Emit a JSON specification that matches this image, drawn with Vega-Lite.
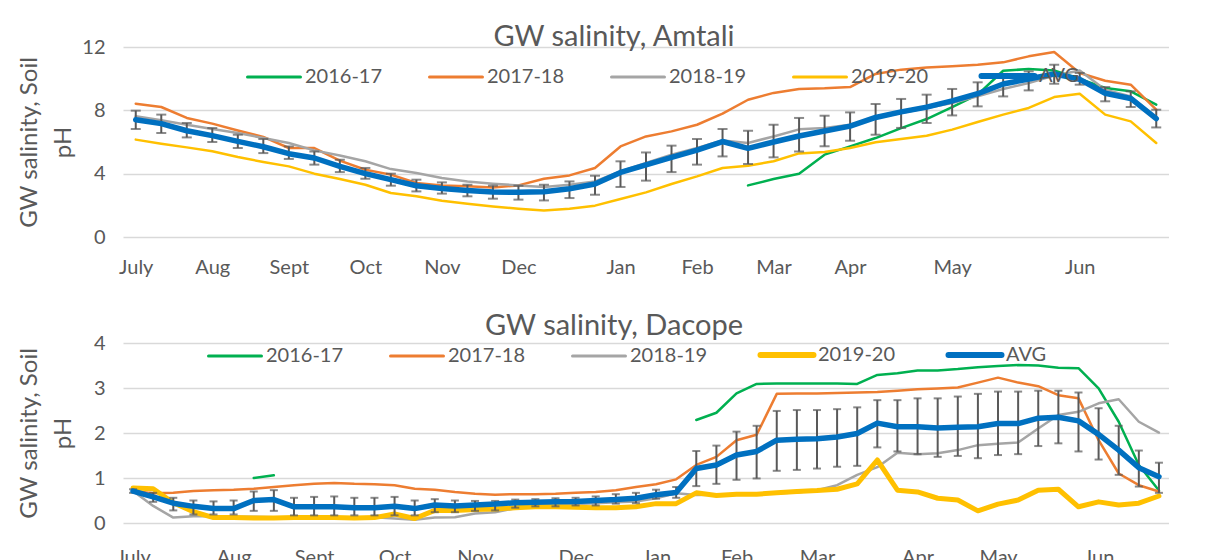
{
  "$schema": "https://vega.github.io/schema/vega-lite/v6.json",
  "background": "white",
  "padding": {"left": 17, "top": 23, "right": 0, "bottom": 0},
  "config": {
    "font": "Lato",
    "view": {"stroke": null},
    "axis": {"labelColor": "#595959", "titleColor": "#595959", "labelFontSize": 20, "titleFontSize": 24, "titleFontWeight": "normal", "domain": false, "ticks": false, "gridColor": "#D9D9D9", "gridWidth": 1.5},
    "title": {"fontSize": 29, "fontWeight": "normal", "color": "#595959"},
    "concat": {"spacing": 35}
  },
  "resolve": {"scale": {"color": "independent"}, "legend": {"color": "independent"}},
  "datasets": {
    "amtali": [
      {"i": 0, "2016-17": null, "2017-18": 8.42, "2018-19": 7.62, "2019-20": 6.15, "AVG": 7.41, "lo": 6.82, "hi": 7.98},
      {"i": 1, "2016-17": null, "2017-18": 8.21, "2018-19": 7.37, "2019-20": 5.89, "AVG": 7.16, "lo": 6.57, "hi": 7.73},
      {"i": 2, "2016-17": null, "2017-18": 7.52, "2018-19": 7.09, "2019-20": 5.66, "AVG": 6.71, "lo": 6.29, "hi": 7.2},
      {"i": 3, "2016-17": null, "2017-18": 7.16, "2018-19": 6.82, "2019-20": 5.41, "AVG": 6.4, "lo": 6.0, "hi": 6.88},
      {"i": 4, "2016-17": null, "2017-18": 6.73, "2018-19": 6.57, "2019-20": 5.05, "AVG": 6.04, "lo": 5.62, "hi": 6.46},
      {"i": 5, "2016-17": null, "2017-18": 6.32, "2018-19": 6.25, "2019-20": 4.74, "AVG": 5.7, "lo": 5.3, "hi": 6.19},
      {"i": 6, "2016-17": null, "2017-18": 5.62, "2018-19": 5.94, "2019-20": 4.46, "AVG": 5.26, "lo": 4.93, "hi": 5.72},
      {"i": 7, "2016-17": null, "2017-18": 5.62, "2018-19": 5.47, "2019-20": 4.0, "AVG": 4.99, "lo": 4.57, "hi": 5.4},
      {"i": 8, "2016-17": null, "2017-18": 4.82, "2018-19": 5.15, "2019-20": 3.66, "AVG": 4.46, "lo": 4.1, "hi": 4.88},
      {"i": 9, "2016-17": null, "2017-18": 4.25, "2018-19": 4.78, "2019-20": 3.3, "AVG": 4.0, "lo": 3.68, "hi": 4.36},
      {"i": 10, "2016-17": null, "2017-18": 3.94, "2018-19": 4.29, "2019-20": 2.78, "AVG": 3.62, "lo": 3.24, "hi": 4.0},
      {"i": 11, "2016-17": null, "2017-18": 3.41, "2018-19": 4.04, "2019-20": 2.57, "AVG": 3.24, "lo": 2.88, "hi": 3.62},
      {"i": 12, "2016-17": null, "2017-18": 3.26, "2018-19": 3.73, "2019-20": 2.29, "AVG": 3.07, "lo": 2.74, "hi": 3.45},
      {"i": 13, "2016-17": null, "2017-18": 3.2, "2018-19": 3.51, "2019-20": 2.1, "AVG": 2.94, "lo": 2.57, "hi": 3.3},
      {"i": 14, "2016-17": null, "2017-18": 3.13, "2018-19": 3.37, "2019-20": 1.93, "AVG": 2.84, "lo": 2.42, "hi": 3.24},
      {"i": 15, "2016-17": null, "2017-18": 3.26, "2018-19": 3.26, "2019-20": 1.79, "AVG": 2.82, "lo": 2.36, "hi": 3.24},
      {"i": 16, "2016-17": null, "2017-18": 3.68, "2018-19": 3.16, "2019-20": 1.68, "AVG": 2.86, "lo": 2.31, "hi": 3.3},
      {"i": 17, "2016-17": null, "2017-18": 3.89, "2018-19": 3.3, "2019-20": 1.79, "AVG": 3.05, "lo": 2.46, "hi": 3.51},
      {"i": 18, "2016-17": null, "2017-18": 4.36, "2018-19": 3.51, "2019-20": 1.98, "AVG": 3.35, "lo": 2.67, "hi": 3.87},
      {"i": 19, "2016-17": null, "2017-18": 5.72, "2018-19": 4.14, "2019-20": 2.4, "AVG": 4.08, "lo": 3.16, "hi": 4.78},
      {"i": 20, "2016-17": null, "2017-18": 6.35, "2018-19": 4.67, "2019-20": 2.82, "AVG": 4.55, "lo": 3.56, "hi": 5.34},
      {"i": 21, "2016-17": null, "2017-18": 6.67, "2018-19": 5.2, "2019-20": 3.35, "AVG": 5.03, "lo": 4.1, "hi": 5.77},
      {"i": 22, "2016-17": null, "2017-18": 7.09, "2018-19": 5.62, "2019-20": 3.83, "AVG": 5.49, "lo": 4.57, "hi": 6.19},
      {"i": 23, "2016-17": null, "2017-18": 7.79, "2018-19": 6.1, "2019-20": 4.36, "AVG": 6.03, "lo": 5.09, "hi": 6.82},
      {"i": 24, "2016-17": 3.26, "2017-18": 8.67, "2018-19": 5.94, "2019-20": 4.5, "AVG": 5.6, "lo": 4.61, "hi": 6.71},
      {"i": 25, "2016-17": 3.66, "2017-18": 9.1, "2018-19": 6.35, "2019-20": 4.78, "AVG": 6.0, "lo": 5.03, "hi": 7.09},
      {"i": 26, "2016-17": 4.0, "2017-18": 9.35, "2018-19": 6.8, "2019-20": 5.28, "AVG": 6.38, "lo": 5.4, "hi": 7.52},
      {"i": 27, "2016-17": 5.2, "2017-18": 9.39, "2018-19": 6.88, "2019-20": 5.37, "AVG": 6.69, "lo": 5.73, "hi": 7.66},
      {"i": 28, "2016-17": 5.72, "2017-18": 9.47, "2018-19": 7.09, "2019-20": 5.62, "AVG": 7.0, "lo": 6.08, "hi": 7.87},
      {"i": 29, "2016-17": 6.25, "2017-18": 10.3, "2018-19": 7.52, "2019-20": 5.98, "AVG": 7.55, "lo": 6.46, "hi": 8.4},
      {"i": 30, "2016-17": 6.88, "2017-18": 10.57, "2018-19": 7.83, "2019-20": 6.19, "AVG": 7.9, "lo": 6.89, "hi": 8.72},
      {"i": 31, "2016-17": 7.45, "2017-18": 10.71, "2018-19": 8.15, "2019-20": 6.4, "AVG": 8.2, "lo": 7.2, "hi": 8.99},
      {"i": 32, "2016-17": 8.21, "2017-18": 10.78, "2018-19": 8.46, "2019-20": 6.78, "AVG": 8.6, "lo": 7.68, "hi": 9.35},
      {"i": 33, "2016-17": 8.99, "2017-18": 10.88, "2018-19": 8.88, "2019-20": 7.26, "AVG": 9.05, "lo": 8.25, "hi": 9.77},
      {"i": 34, "2016-17": 10.5, "2017-18": 11.03, "2018-19": 9.35, "2019-20": 7.73, "AVG": 9.66, "lo": 8.88, "hi": 10.3},
      {"i": 35, "2016-17": 10.61, "2017-18": 11.41, "2018-19": 9.73, "2019-20": 8.15, "AVG": 9.98, "lo": 9.26, "hi": 10.46},
      {"i": 36, "2016-17": 10.52, "2017-18": 11.68, "2018-19": 10.19, "2019-20": 8.84, "AVG": 10.3, "lo": 9.68, "hi": 10.88},
      {"i": 37, "2016-17": 9.98, "2017-18": 10.36, "2018-19": 10.52, "2019-20": 9.05, "AVG": 9.96, "lo": 9.62, "hi": 10.36},
      {"i": 38, "2016-17": 9.41, "2017-18": 9.87, "2018-19": 9.3, "2019-20": 7.73, "AVG": 9.08, "lo": 8.57, "hi": 9.47},
      {"i": 39, "2016-17": 9.2, "2017-18": 9.62, "2018-19": 8.88, "2019-20": 7.3, "AVG": 8.75, "lo": 8.21, "hi": 9.2},
      {"i": 40, "2016-17": 8.36, "2017-18": 8.04, "2018-19": 7.52, "2019-20": 5.94, "AVG": 7.48, "lo": 6.92, "hi": 8.04}
    ],
    "dacope": [
      {"i": 0, "2016-17": null, "2017-18": 0.71, "2018-19": 0.71, "2019-20": 0.78, "AVG": 0.71, "lo": 0.67, "hi": 0.75},
      {"i": 1, "2016-17": null, "2017-18": 0.66, "2018-19": 0.38, "2019-20": 0.76, "AVG": 0.58, "lo": 0.47, "hi": 0.67},
      {"i": 2, "2016-17": null, "2017-18": 0.67, "2018-19": 0.12, "2019-20": 0.45, "AVG": 0.44, "lo": 0.28, "hi": 0.56},
      {"i": 3, "2016-17": null, "2017-18": 0.71, "2018-19": 0.15, "2019-20": 0.25, "AVG": 0.37, "lo": 0.19, "hi": 0.5},
      {"i": 4, "2016-17": null, "2017-18": 0.73, "2018-19": 0.15, "2019-20": 0.12, "AVG": 0.32, "lo": 0.19, "hi": 0.48},
      {"i": 5, "2016-17": null, "2017-18": 0.74, "2018-19": 0.14, "2019-20": 0.12, "AVG": 0.32, "lo": 0.19, "hi": 0.5},
      {"i": 6, "2016-17": 1.0, "2017-18": 0.76, "2018-19": 0.14, "2019-20": 0.11, "AVG": 0.5, "lo": 0.27, "hi": 0.7},
      {"i": 7, "2016-17": 1.06, "2017-18": 0.8, "2018-19": 0.13, "2019-20": 0.11, "AVG": 0.52, "lo": 0.27, "hi": 0.73},
      {"i": 8, "2016-17": null, "2017-18": 0.84, "2018-19": 0.13, "2019-20": 0.12, "AVG": 0.36, "lo": 0.17, "hi": 0.56},
      {"i": 9, "2016-17": null, "2017-18": 0.87, "2018-19": 0.13, "2019-20": 0.12, "AVG": 0.36, "lo": 0.17, "hi": 0.58},
      {"i": 10, "2016-17": null, "2017-18": 0.89, "2018-19": 0.13, "2019-20": 0.12, "AVG": 0.36, "lo": 0.17, "hi": 0.59},
      {"i": 11, "2016-17": null, "2017-18": 0.87, "2018-19": 0.13, "2019-20": 0.11, "AVG": 0.34, "lo": 0.17, "hi": 0.56},
      {"i": 12, "2016-17": null, "2017-18": 0.86, "2018-19": 0.13, "2019-20": 0.12, "AVG": 0.34, "lo": 0.17, "hi": 0.56},
      {"i": 13, "2016-17": null, "2017-18": 0.84, "2018-19": 0.1, "2019-20": 0.2, "AVG": 0.37, "lo": 0.17, "hi": 0.58},
      {"i": 14, "2016-17": null, "2017-18": 0.76, "2018-19": 0.07, "2019-20": 0.1, "AVG": 0.32, "lo": 0.17, "hi": 0.5},
      {"i": 15, "2016-17": null, "2017-18": 0.74, "2018-19": 0.12, "2019-20": 0.28, "AVG": 0.4, "lo": 0.24, "hi": 0.53},
      {"i": 16, "2016-17": null, "2017-18": 0.69, "2018-19": 0.13, "2019-20": 0.28, "AVG": 0.38, "lo": 0.24, "hi": 0.5},
      {"i": 17, "2016-17": null, "2017-18": 0.65, "2018-19": 0.21, "2019-20": 0.3, "AVG": 0.4, "lo": 0.27, "hi": 0.49},
      {"i": 18, "2016-17": null, "2017-18": 0.63, "2018-19": 0.24, "2019-20": 0.31, "AVG": 0.42, "lo": 0.28, "hi": 0.49},
      {"i": 19, "2016-17": null, "2017-18": 0.64, "2018-19": 0.33, "2019-20": 0.34, "AVG": 0.45, "lo": 0.34, "hi": 0.52},
      {"i": 20, "2016-17": null, "2017-18": 0.64, "2018-19": 0.38, "2019-20": 0.36, "AVG": 0.46, "lo": 0.37, "hi": 0.53},
      {"i": 21, "2016-17": null, "2017-18": 0.65, "2018-19": 0.4, "2019-20": 0.36, "AVG": 0.47, "lo": 0.37, "hi": 0.55},
      {"i": 22, "2016-17": null, "2017-18": 0.67, "2018-19": 0.42, "2019-20": 0.35, "AVG": 0.48, "lo": 0.39, "hi": 0.56},
      {"i": 23, "2016-17": null, "2017-18": 0.69, "2018-19": 0.44, "2019-20": 0.34, "AVG": 0.5, "lo": 0.39, "hi": 0.59},
      {"i": 24, "2016-17": null, "2017-18": 0.73, "2018-19": 0.46, "2019-20": 0.34, "AVG": 0.52, "lo": 0.43, "hi": 0.64},
      {"i": 25, "2016-17": null, "2017-18": 0.8, "2018-19": 0.48, "2019-20": 0.36, "AVG": 0.55, "lo": 0.44, "hi": 0.67},
      {"i": 26, "2016-17": null, "2017-18": 0.86, "2018-19": 0.55, "2019-20": 0.43, "AVG": 0.63, "lo": 0.54, "hi": 0.74},
      {"i": 27, "2016-17": null, "2017-18": 0.97, "2018-19": 0.66, "2019-20": 0.43, "AVG": 0.68, "lo": 0.56, "hi": 0.8},
      {"i": 28, "2016-17": 2.29, "2017-18": 1.29, "2018-19": 0.62, "2019-20": 0.67, "AVG": 1.21, "lo": 0.82, "hi": 1.6},
      {"i": 29, "2016-17": 2.45, "2017-18": 1.47, "2018-19": 0.63, "2019-20": 0.61, "AVG": 1.29, "lo": 0.87, "hi": 1.72},
      {"i": 30, "2016-17": 2.88, "2017-18": 1.84, "2018-19": 0.64, "2019-20": 0.64, "AVG": 1.51, "lo": 0.96, "hi": 2.03},
      {"i": 31, "2016-17": 3.09, "2017-18": 1.96, "2018-19": 0.65, "2019-20": 0.64, "AVG": 1.59, "lo": 0.99, "hi": 2.16},
      {"i": 32, "2016-17": 3.1, "2017-18": 2.87, "2018-19": 0.66, "2019-20": 0.67, "AVG": 1.84, "lo": 1.16, "hi": 2.49},
      {"i": 33, "2016-17": 3.1, "2017-18": 2.88, "2018-19": 0.68, "2019-20": 0.7, "AVG": 1.86, "lo": 1.18, "hi": 2.51},
      {"i": 34, "2016-17": 3.1, "2017-18": 2.88, "2018-19": 0.73, "2019-20": 0.72, "AVG": 1.87, "lo": 1.21, "hi": 2.51},
      {"i": 35, "2016-17": 3.1, "2017-18": 2.89, "2018-19": 0.84, "2019-20": 0.75, "AVG": 1.91, "lo": 1.25, "hi": 2.53},
      {"i": 36, "2016-17": 3.09, "2017-18": 2.9, "2018-19": 1.07, "2019-20": 0.87, "AVG": 1.99, "lo": 1.27, "hi": 2.57},
      {"i": 37, "2016-17": 3.29, "2017-18": 2.91, "2018-19": 1.24, "2019-20": 1.4, "AVG": 2.22, "lo": 1.68, "hi": 2.73},
      {"i": 38, "2016-17": 3.33, "2017-18": 2.94, "2018-19": 1.56, "2019-20": 0.73, "AVG": 2.14, "lo": 1.59, "hi": 2.73},
      {"i": 39, "2016-17": 3.39, "2017-18": 2.97, "2018-19": 1.53, "2019-20": 0.69, "AVG": 2.14, "lo": 1.53, "hi": 2.77},
      {"i": 40, "2016-17": 3.39, "2017-18": 2.99, "2018-19": 1.55, "2019-20": 0.55, "AVG": 2.11, "lo": 1.47, "hi": 2.77},
      {"i": 41, "2016-17": 3.42, "2017-18": 3.01, "2018-19": 1.62, "2019-20": 0.51, "AVG": 2.13, "lo": 1.49, "hi": 2.81},
      {"i": 42, "2016-17": 3.46, "2017-18": 3.12, "2018-19": 1.73, "2019-20": 0.27, "AVG": 2.14, "lo": 1.44, "hi": 2.87},
      {"i": 43, "2016-17": 3.49, "2017-18": 3.23, "2018-19": 1.76, "2019-20": 0.42, "AVG": 2.21, "lo": 1.51, "hi": 2.92},
      {"i": 44, "2016-17": 3.51, "2017-18": 3.12, "2018-19": 1.79, "2019-20": 0.51, "AVG": 2.21, "lo": 1.53, "hi": 2.92},
      {"i": 45, "2016-17": 3.5, "2017-18": 3.04, "2018-19": 2.1, "2019-20": 0.73, "AVG": 2.33, "lo": 1.71, "hi": 2.94},
      {"i": 46, "2016-17": 3.45, "2017-18": 2.84, "2018-19": 2.4, "2019-20": 0.75, "AVG": 2.35, "lo": 1.77, "hi": 2.94},
      {"i": 47, "2016-17": 3.44, "2017-18": 2.77, "2018-19": 2.47, "2019-20": 0.36, "AVG": 2.27, "lo": 1.59, "hi": 2.9},
      {"i": 48, "2016-17": 2.99, "2017-18": 1.84, "2018-19": 2.66, "2019-20": 0.47, "AVG": 1.97, "lo": 1.41, "hi": 2.55},
      {"i": 49, "2016-17": 2.25, "2017-18": 1.1, "2018-19": 2.75, "2019-20": 0.4, "AVG": 1.62, "lo": 1.07, "hi": 2.16},
      {"i": 50, "2016-17": 1.29, "2017-18": 0.84, "2018-19": 2.25, "2019-20": 0.44, "AVG": 1.23, "lo": 0.81, "hi": 1.61},
      {"i": 51, "2016-17": 0.72, "2017-18": 0.7, "2018-19": 2.01, "2019-20": 0.6, "AVG": 1.03, "lo": 0.67, "hi": 1.34}
    ]
  },
  "vconcat": [
    {
      "width": 1046,
      "height": 190,
      "title": {"text": "GW salinity, Amtali", "frame": "group", "dx": -32, "offset": -15},
      "data": {"name": "amtali"},
      "layer": [
        {
          "transform": [{"fold": ["2016-17", "2017-18", "2018-19", "2019-20"], "as": ["series", "value"]}],
          "mark": {"type": "line", "strokeWidth": 2.5, "strokeJoin": "round", "strokeCap": "round", "invalid": "break-paths-filter-domains"},
          "encoding": {
            "x": {"field": "i", "type": "quantitative", "scale": {"domain": [-0.5, 40.5], "nice": false, "zero": false},
              "axis": {"values": [0, 3, 6, 9, 12, 15, 19, 22, 25, 28, 32, 37], "labelExpr": "['July','Aug','Sept','Oct','Nov','Dec','Jan','Feb','Mar','Apr','May','Jun'][indexof([0,3,6,9,12,15,19,22,25,28,32,37], datum.value)]", "grid": false, "title": null, "labelPadding": 20, "labelFlush": false}},
            "y": {"field": "value", "type": "quantitative", "scale": {"domain": [0, 12], "nice": false}, "title": ["GW salinity, Soil", "pH"],
              "axis": {"values": [0, 2, 4, 6, 8, 10, 12], "titlePadding": 6, "labelPadding": 18, "minExtent": 42, "maxExtent": 42, "titleLineHeight": 34}},
            "color": {"field": "series", "type": "nominal",
              "scale": {"domain": ["2016-17", "2017-18", "2018-19", "2019-20", "AVG"], "range": ["#00B050", "#ED7D31", "#A5A5A5", "#FFC000", "#0070C0"]},
              "legend": {"orient": "none", "legendX": 141, "legendY": 19, "direction": "horizontal", "columns": 5, "title": null, "symbolType": "stroke", "symbolSize": 2809, "symbolStrokeWidth": 3, "labelFontSize": 20, "labelColor": "#595959", "labelOffset": 21, "columnPadding": 40, "labelLimit": 300,
                "encode": {"symbols": {"update": {"strokeWidth": {"signal": "datum.value === 'AVG' ? 6 : 3"}, "strokeCap": {"value": "round"}}}}}}
          }
        },
        {
          "mark": {"type": "errorbar", "ticks": true, "size": 10, "thickness": 2, "color": "#595959"},
          "encoding": {
            "x": {"field": "i", "type": "quantitative"},
            "y": {"field": "lo", "type": "quantitative", "title": ["GW salinity, Soil", "pH"]},
            "y2": {"field": "hi"}
          }
        },
        {
          "transform": [{"fold": ["AVG"], "as": ["series", "value"]}],
          "mark": {"type": "line", "strokeWidth": 5.5, "strokeJoin": "round", "strokeCap": "round"},
          "encoding": {
            "x": {"field": "i", "type": "quantitative"},
            "y": {"field": "value", "type": "quantitative", "title": ["GW salinity, Soil", "pH"]},
            "color": {"field": "series", "type": "nominal", "legend": null}
          }
        }
      ]
    },
    {
      "width": 1046,
      "height": 180,
      "title": {"text": "GW salinity, Dacope", "frame": "group", "dx": -32, "offset": -8},
      "data": {"name": "dacope"},
      "layer": [
        {
          "transform": [{"fold": ["2016-17", "2017-18", "2018-19"], "as": ["series", "value"]}],
          "mark": {"type": "line", "strokeWidth": 2.5, "strokeJoin": "round", "strokeCap": "round", "invalid": "break-paths-filter-domains"},
          "encoding": {
            "x": {"field": "i", "type": "quantitative", "scale": {"domain": [-0.5, 51.5], "nice": false, "zero": false},
              "axis": {"values": [0, 5, 9, 13, 17, 22, 26, 30, 34, 39, 43, 48], "labelExpr": "['July','Aug','Sept','Oct','Nov','Dec','Jan','Feb','Mar','Apr','May','Jun'][indexof([0,5,9,13,17,22,26,30,34,39,43,48], datum.value)]", "grid": false, "title": null, "labelPadding": 24, "labelFlush": false}},
            "y": {"field": "value", "type": "quantitative", "scale": {"domain": [0, 4], "nice": false}, "title": ["GW salinity, Soil", "pH"],
              "axis": {"values": [0, 1, 2, 3, 4], "titlePadding": 6, "labelPadding": 18, "minExtent": 42, "maxExtent": 42, "titleLineHeight": 34}},
            "color": {"field": "series", "type": "nominal",
              "scale": {"domain": ["2016-17", "2017-18", "2018-19", "2019-20", "AVG"], "range": ["#00B050", "#ED7D31", "#A5A5A5", "#FFC000", "#0070C0"]},
              "legend": {"orient": "none", "legendX": 102, "legendY": 2, "direction": "horizontal", "columns": 5, "title": null, "symbolType": "stroke", "symbolSize": 2809, "symbolStrokeWidth": 3, "labelFontSize": 20, "labelColor": "#595959", "labelOffset": 21, "columnPadding": 40, "labelLimit": 300,
                "encode": {"symbols": {"update": {"strokeWidth": {"signal": "datum.value === 'AVG' || datum.value === '2019-20' ? 6 : 3"}, "strokeCap": {"value": "round"}}}}}}
          }
        },
        {
          "transform": [{"fold": ["2019-20"], "as": ["series", "value"]}],
          "mark": {"type": "line", "strokeWidth": 5, "strokeJoin": "round", "strokeCap": "round"},
          "encoding": {
            "x": {"field": "i", "type": "quantitative"},
            "y": {"field": "value", "type": "quantitative", "title": ["GW salinity, Soil", "pH"]},
            "color": {"field": "series", "type": "nominal", "legend": null}
          }
        },
        {
          "mark": {"type": "errorbar", "ticks": true, "size": 8, "thickness": 2, "color": "#595959"},
          "encoding": {
            "x": {"field": "i", "type": "quantitative"},
            "y": {"field": "lo", "type": "quantitative", "title": ["GW salinity, Soil", "pH"]},
            "y2": {"field": "hi"}
          }
        },
        {
          "transform": [{"fold": ["AVG"], "as": ["series", "value"]}],
          "mark": {"type": "line", "strokeWidth": 5.5, "strokeJoin": "round", "strokeCap": "round"},
          "encoding": {
            "x": {"field": "i", "type": "quantitative"},
            "y": {"field": "value", "type": "quantitative", "title": ["GW salinity, Soil", "pH"]},
            "color": {"field": "series", "type": "nominal", "legend": null}
          }
        }
      ]
    }
  ]
}
